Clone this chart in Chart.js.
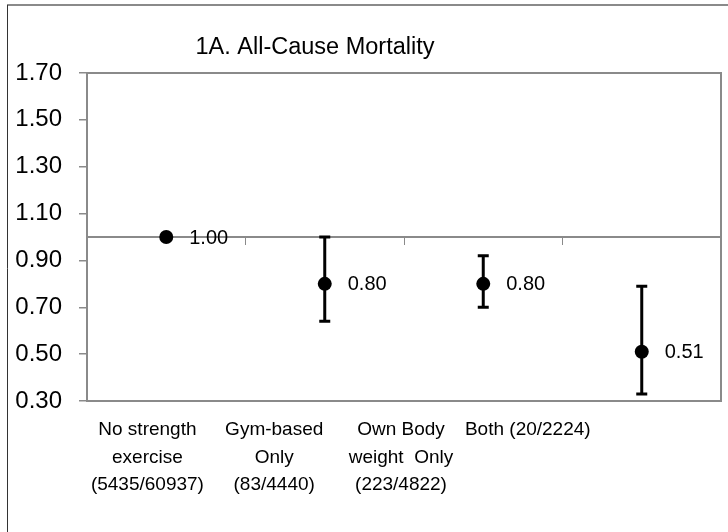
<!DOCTYPE html>
<html>
<head>
<meta charset="utf-8">
<script src="https://cdn.jsdelivr.net/npm/chart.js@4.4.1/dist/chart.umd.min.js"></script>
<style>
  html, body { margin: 0; padding: 0; background: #fff; overflow: hidden; }
  #wrap { width: 728px; height: 532px; }
</style>
</head>
<body>
<div id="wrap"><canvas id="myChart"></canvas></div>
<script>
const titleText = '1A. All-Cause Mortality';
const groups = ['No strength exercise', 'Gym-based Only', 'Own Body weight Only', 'Both'];
const groupLabels = [
    ['No strength', 'exercise', '(5435/60937)'],
    ['Gym-based', 'Only', '(83/4440)'],
    ['Own Body', 'weight  Only', '(223/4822)'],
    ['Both (20/2224)'],
    ''
];
const hazard = [1.00, 0.80, 0.80, 0.51];
const lowerCI = [1.00, 0.64, 0.70, 0.33];
const upperCI = [1.00, 1.00, 0.92, 0.79];
const yTicks = [0.30, 0.50, 0.70, 0.90, 1.10, 1.30, 1.50, 1.70];

const FONT = "'Liberation Sans', Arial, sans-serif";
const GRAY = '#8a8a8a';

// frame, plot box, title
const framePlugin = {
    id: 'frame',
    beforeDraw(chart) {
        const ctx = chart.ctx;
        const a = chart.chartArea;
        ctx.save();
        ctx.strokeStyle = GRAY;
        ctx.lineWidth = 2;
        ctx.beginPath();
        ctx.moveTo(7, 5);
        ctx.lineTo(728, 5);
        ctx.stroke();
        ctx.strokeStyle = '#333';
        ctx.lineWidth = 1;
        ctx.beginPath();
        ctx.moveTo(7.5, 5);
        ctx.lineTo(7.5, 532);
        ctx.stroke();
        ctx.strokeStyle = GRAY;
        ctx.lineWidth = 2;
        ctx.strokeRect(a.left, a.top, a.right - a.left, a.bottom - a.top);
        ctx.fillStyle = '#000';
        ctx.font = '23.5px ' + FONT;
        ctx.textAlign = 'center';
        ctx.textBaseline = 'middle';
        ctx.fillText(titleText, 315, 48);
        ctx.restore();
    }
};

// confidence intervals + value labels
const errorPlugin = {
    id: 'errorBars',
    beforeDatasetsDraw(chart) {
        const ctx = chart.ctx;
        const y = chart.scales.y;
        const meta = chart.getDatasetMeta(0);
        ctx.save();
        ctx.strokeStyle = '#000';
        ctx.lineWidth = 3;
        meta.data.forEach(function(pt, i) {
            if (lowerCI[i] === upperCI[i]) return;
            const yl = y.getPixelForValue(lowerCI[i]);
            const yu = y.getPixelForValue(upperCI[i]);
            ctx.beginPath();
            ctx.moveTo(pt.x, yl);
            ctx.lineTo(pt.x, yu);
            ctx.moveTo(pt.x - 5.5, yl);
            ctx.lineTo(pt.x + 5.5, yl);
            ctx.moveTo(pt.x - 5.5, yu);
            ctx.lineTo(pt.x + 5.5, yu);
            ctx.stroke();
        });
        ctx.restore();
    },
    afterDatasetsDraw(chart) {
        const ctx = chart.ctx;
        const meta = chart.getDatasetMeta(0);
        ctx.save();
        ctx.fillStyle = '#000';
        ctx.font = '20px ' + FONT;
        ctx.textAlign = 'left';
        ctx.textBaseline = 'middle';
        meta.data.forEach(function(pt, i) {
            ctx.fillText(hazard[i].toFixed(2), pt.x + 23, pt.y + 1);
        });
        ctx.restore();
    }
};

const ctx = document.getElementById('myChart').getContext('2d');
const myChart = new Chart(ctx, {
    type: 'line',
    data: {
        labels: groups,
        datasets: [{
            data: hazard,
            showLine: false,
            pointRadius: 7,
            pointHoverRadius: 7,
            pointBackgroundColor: '#000',
            pointBorderColor: '#000',
            pointBorderWidth: 0
        }]
    },
    options: {
        responsive: true,
        maintainAspectRatio: false,
        animation: false,
        events: [],
        layout: { padding: { top: 73, right: 3, left: 0, bottom: 0 } },
        plugins: {
            legend: { display: false },
            tooltip: { enabled: false },
            title: { display: false }
        },
        scales: {
            x: {
                type: 'category',
                position: { y: 1.0 },
                offset: true,
                ticks: { display: false },
                grid: {
                    offset: true,
                    drawOnChartArea: false,
                    drawTicks: true,
                    tickLength: 7,
                    color: GRAY,
                    lineWidth: 1
                },
                border: { display: true, color: GRAY, width: 2 },
                afterFit(scale) {
                    scale.paddingLeft = 0;
                    scale.paddingRight = 0;
                }
            },
            x2: {
                type: 'category',
                labels: groupLabels,
                position: 'bottom',
                offset: true,
                grid: { display: false, drawTicks: false, tickLength: 0 },
                border: { display: false },
                ticks: {
                    autoSkip: false,
                    maxRotation: 0,
                    minRotation: 0,
                    padding: 15,
                    labelOffset: -3,
                    color: '#000',
                    font: { family: FONT, size: 19, lineHeight: 1.45 }
                },
                afterFit(scale) {
                    scale.height = 131;
                    scale.paddingLeft = 0;
                    scale.paddingRight = 0;
                }
            },
            y: {
                min: 0.3,
                max: 1.7,
                afterBuildTicks(scale) {
                    scale.ticks = yTicks.map(v => ({ value: v }));
                },
                ticks: {
                    padding: 17,
                    color: '#000',
                    font: { family: FONT, size: 24 },
                    callback: v => Number(v).toFixed(2)
                },
                grid: {
                    drawOnChartArea: false,
                    drawTicks: true,
                    tickLength: 8,
                    color: GRAY,
                    lineWidth: 1.5
                },
                border: { display: false },
                afterFit(scale) {
                    scale.width = 87;
                    scale.paddingLeft = 0;
                    scale.paddingRight = 0;
                }
            }
        }
    },
    plugins: [framePlugin, errorPlugin]
});
</script>
</body>
</html>
